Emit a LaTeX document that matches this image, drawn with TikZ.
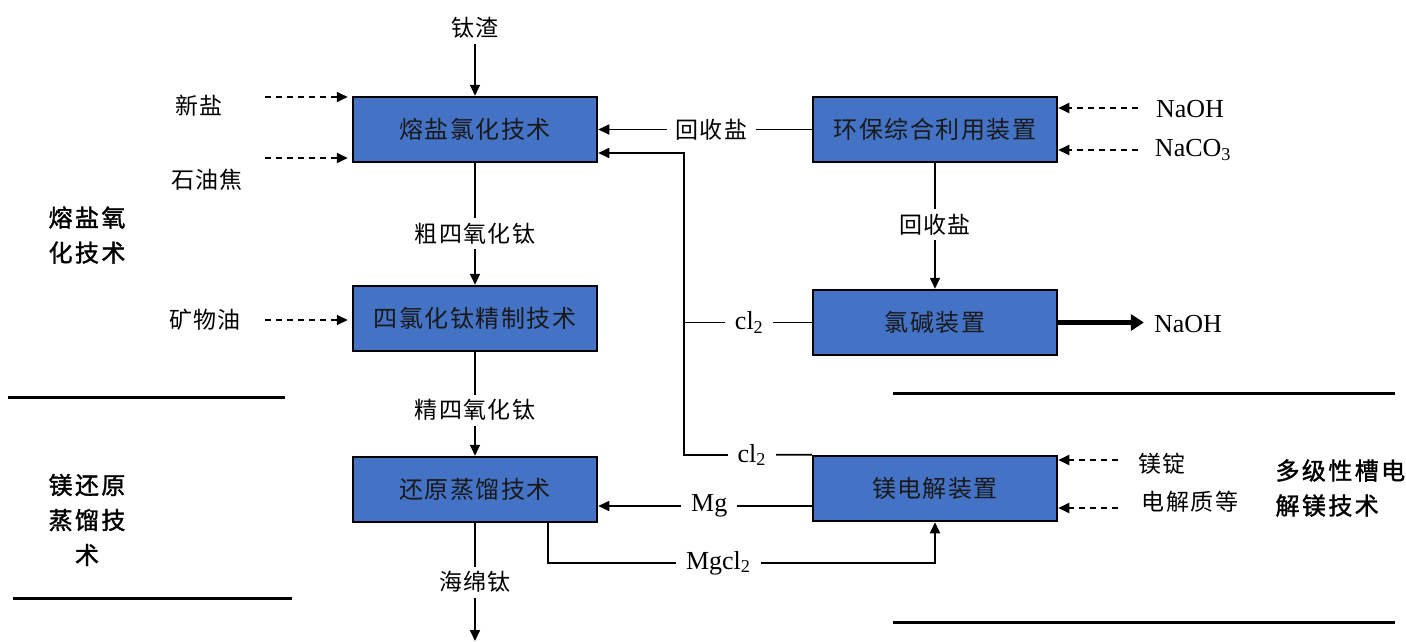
\documentclass[tikz,border=0pt]{standalone}
\usepackage{fontspec}
\setmainfont{Liberation Serif}
\newfontfamily\cjk[LetterSpace=6]{Noto Sans CJK SC}
\newfontfamily\cjkt[LetterSpace=10,FakeBold=1.5]{Noto Sans CJK SC}
\usetikzlibrary{arrows.meta}
\definecolor{boxblue}{RGB}{68,114,196}
\begin{document}
\begin{tikzpicture}[x=1pt,y=-1pt,
  box/.style={draw=black, line width=2.5pt, fill=boxblue, minimum width=244pt, minimum height=65pt, inner sep=0pt, font=\cjk\fontsize{24}{28}\selectfont, text=black!90},
  lbl/.style={fill=white, inner xsep=9pt, inner ysep=5pt, font=\cjk\fontsize{23}{27}\selectfont},
  lat/.style={fill=white, inner xsep=10pt, inner ysep=3pt, font=\fontsize{26}{30}\selectfont},
  flow/.style={line width=1.7pt, -{Triangle[length=11pt,width=10pt]}},
  feed/.style={line width=1.9pt, dash pattern=on 6pt off 5pt, -{Triangle[length=11pt,width=10pt]}},
  plain/.style={line width=1.7pt},
  sep/.style={line width=3pt},
  ttl/.style={font=\cjkt\fontsize{24}{35}\selectfont, align=center}]
\useasboundingbox (0,0) rectangle (1406,641);

% boxes
\node[box] (B1) at (475,129.5) {熔盐氯化技术};
\node[box] (B2) at (475,318.5) {四氯化钛精制技术};
\node[box] (B3) at (475,489.5) {还原蒸馏技术};
\node[box] (B4) at (935,129.5) {环保综合利用装置};
\node[box] (B5) at (935,322.5) {氯碱装置};
\node[box] (B6) at (935,488.5) {镁电解装置};

% main vertical flow
\node[lbl] (tz) at (475,28) {钛渣};
\draw[flow] (tz.south) -- (B1.north);
\draw[flow] (B1) -- node[lbl,pos=0.58]{粗四氧化钛} (B2);
\draw[flow] (B2) -- node[lbl,pos=0.56]{精四氧化钛} (B3);
\coordinate (out) at (475,641);
\draw[flow] (B3) -- node[lbl,pos=0.5]{海绵钛} (out);

% left feeds
\node[lbl] (xy) at (199,106) {新盐};
\coordinate (f0) at (265,97);
\draw[feed, shorten >=4pt] (f0) -- (B1.west |- f0);
\node[lbl] (syj) at (207,180) {石油焦};
\coordinate (f1) at (265,158);
\draw[feed, shorten >=4pt] (f1) -- (B1.west |- f1);
\node[lbl] (kwy) at (205,320) {矿物油};
\coordinate (f2) at (265,320);
\draw[feed, shorten >=4pt] (f2) -- (B2.west |- f2);

% recycle salt
\draw[flow] (B4) -- node[lbl,pos=0.47]{回收盐} (B1);
\draw[flow] (B4) -- node[lbl,pos=0.49]{回收盐} (B5);

% chlorine routes
\coordinate (j1) at (684,455);
\coordinate (j2) at (684,153);
\draw[flow] (B6.north west) -- node[lat,pos=0.47]{cl\textsubscript{2}} (j1) -- (j2) -- (B1.east |- j2);
\draw[plain] (B5) -- node[lat,pos=0.49]{cl\textsubscript{2}} (B5.west -| j1);

% Mg and MgCl2
\coordinate (mg) at (0,506);
\draw[flow] (B6.west |- mg) -- node[lat,pos=0.48]{Mg} (B3.east |- mg);
\coordinate (m1) at (548,563);
\draw[flow] (B3.south -| m1) -- (m1) -- node[lat,pos=0.44]{Mgcl\textsubscript{2}} (B6.south |- m1) -- (B6.south);

% right feeds
\node[lat] (naoh1) at (1190,109) {NaOH};
\node[lat] (naco) at (1193,150) {NaCO\textsubscript{3}};
\coordinate (r1) at (1138,108);
\coordinate (r2) at (1138,150);
\draw[feed] (r1) -- (B4.east |- r1);
\draw[feed] (r2) -- (B4.east |- r2);

\node[lat] (naoh2) at (1188,324) {NaOH};
\draw[line width=5pt, -{Triangle[length=13pt,width=16pt]}] (B5.east) -- (B5.east -| naoh2.west);

\node[lbl] (md) at (1162,464) {镁锭};
\node[lbl] (dj) at (1190,502) {电解质等};
\coordinate (r3) at (1118,460);
\coordinate (r4) at (1118,508);
\draw[feed] (r3) -- (B6.east |- r3);
\draw[feed] (r4) -- (B6.east |- r4);

% titles
\node[ttl] (t1) at (87,235) {熔盐氧\\化技术};
\node[ttl] (t2) at (87,520) {镁还原\\蒸馏技\\术};
\node[ttl, align=left, anchor=west] (t3) at (1272,488) {多级性槽电\\解镁技术};

% separators
\draw[sep] (8,397) -- (285,397);
\draw[sep] (13,598) -- (292,598);
\draw[sep] (893,393) -- (1395,393);
\draw[sep] (893,622) -- (1395,622);
\end{tikzpicture}
\end{document}
